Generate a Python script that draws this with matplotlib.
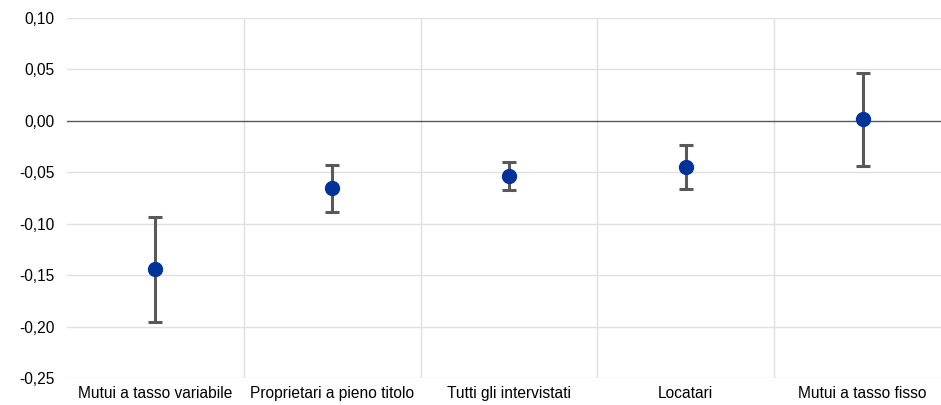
import numpy as np
import matplotlib
matplotlib.use("Agg")
import matplotlib.pyplot as plt
from matplotlib.ticker import FuncFormatter

# dati
categorie = ["Mutui a tasso variabile", "Proprietari a pieno titolo",
             "Tutti gli intervistati", "Locatari", "Mutui a tasso fisso"]
stima = [-0.144, -0.065, -0.0535, -0.0445, 0.002]
limite_inf = [-0.1955, -0.0885, -0.067, -0.066, -0.0435]
limite_sup = [-0.0935, -0.043, -0.040, -0.0235, 0.0465]

plt.rcParams['font.family'] = ['Liberation Sans', 'DejaVu Sans']

fig = plt.figure(figsize=(9.41, 4.05), dpi=100)
ax = fig.add_axes([67 / 941, 27 / 405, 884 / 941, 360 / 405])

x = np.arange(len(categorie))
stima_arr = np.array(stima)
err = [stima_arr - np.array(limite_inf), np.array(limite_sup) - stima_arr]

# griglia
for v in np.arange(-0.25, 0.101, 0.05):
    if abs(v) < 1e-9:
        continue
    ax.axhline(v, color="#e0e0e0", lw=1, zorder=0)
for b in np.arange(0.5, len(categorie), 1):
    ax.axvline(b, color="#e0e0e0", lw=1, zorder=0)
ax.axhline(0, color="#595959", lw=1, zorder=1)

ax.errorbar(x, stima, yerr=err, fmt="o", color="#003399", markersize=10,
            ecolor="#595959", elinewidth=2.2, capsize=5, capthick=2.2, zorder=3)

ax.set_xlim(-0.5, len(categorie) - 0.5)
ax.set_ylim(-0.25, 0.10)
ax.set_yticks(np.arange(-0.25, 0.101, 0.05))
ax.yaxis.set_major_formatter(FuncFormatter(lambda v, p: f"{v:.2f}".replace(".", ",").replace("-0,00", "0,00")))
ax.set_xticks(x)
ax.set_xticklabels(categorie)
ax.tick_params(axis="both", length=0, labelsize=11.2, colors="black")
ax.tick_params(axis="y", pad=9)
ax.tick_params(axis="x", pad=6)
for s in ax.spines.values():
    s.set_visible(False)

fig.savefig("out.png", dpi=100)
